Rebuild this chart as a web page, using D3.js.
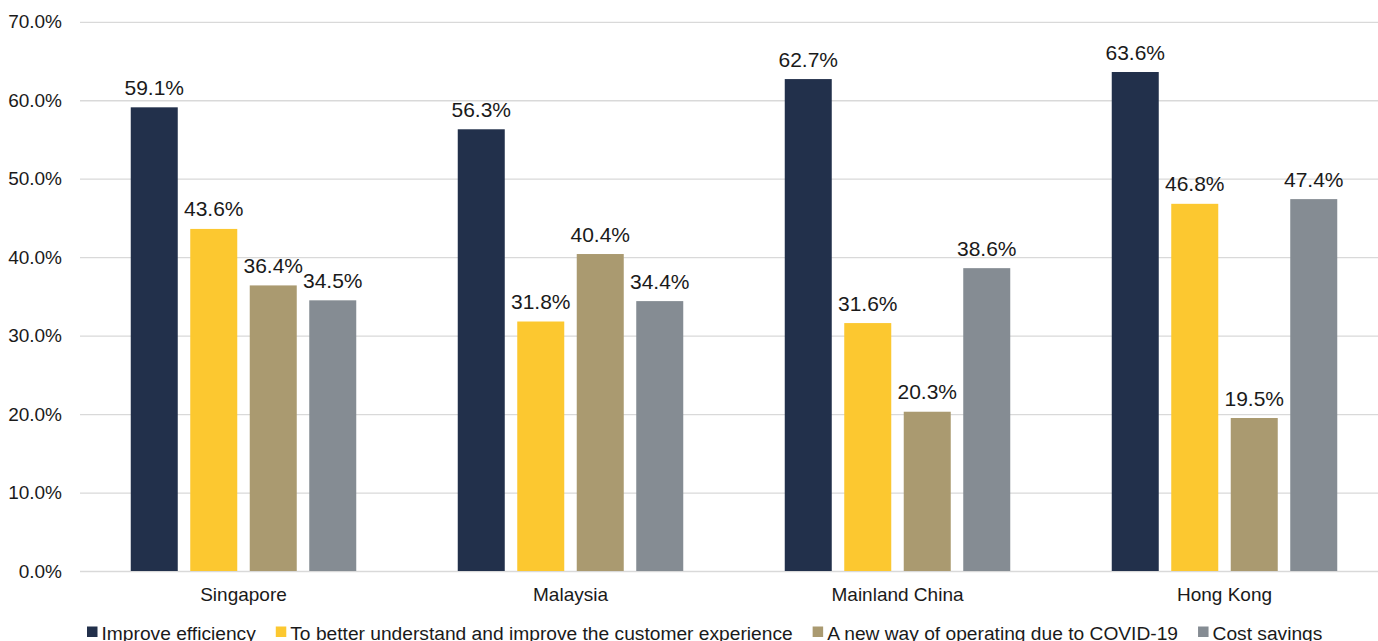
<!DOCTYPE html>
<html>
<head>
<meta charset="utf-8">
<script src="https://cdn.jsdelivr.net/npm/d3@7"></script>
<style>
  html, body { margin: 0; padding: 0; background: #fff; }
  svg { display: block; font-family: "Liberation Sans", Arial, sans-serif; }
</style>
</head>
<body>
<svg id="chart" width="1378" height="641"></svg>
<script>
// Markets surveyed
const categories = ["Singapore", "Malaysia", "Mainland China", "Hong Kong"];

// Share of respondents citing each reason (%)
const seriesNames = [
  "Improve efficiency",
  "To better understand and improve the customer experience",
  "A new way of operating due to COVID-19",
  "Cost savings"
];
const improveEfficiency = [59.1, 56.3, 62.7, 63.6];
const customerExperience = [43.6, 31.8, 31.6, 46.8];
const covidOperating = [36.4, 40.4, 20.3, 19.5];
const costSavings = [34.5, 34.4, 38.6, 47.4];
const seriesValues = [improveEfficiency, customerExperience, covidOperating, costSavings];
const seriesColors = ["#22304b", "#fcc830", "#aa9a70", "#858c93"];

// Y axis tick values (%)
const yTicks = [0, 10, 20, 30, 40, 50, 60, 70];

const svg = d3.select("#chart");
const W = 1378;
const plotLeft = 80, plotRight = 1388, plotTop = 21.8, plotBottom = 571;

const x0 = d3.scaleBand().domain(categories).range([plotLeft, plotRight]).padding(0);
const groupW = 225.5;
const groupOff = (x0.bandwidth() - groupW) / 2;
const x1 = d3.scaleBand().domain(seriesNames).range([groupOff, groupOff + groupW])
  .paddingInner(0.21).paddingOuter(0);
const y = d3.scaleLinear().domain([0, 70]).range([plotBottom, plotTop]);
const color = d3.scaleOrdinal().domain(seriesNames).range(seriesColors);
const pct = d3.format(".1f");

// Gridlines and y tick labels
const yAxis = svg.append("g")
  .attr("transform", `translate(${plotLeft},0)`)
  .call(d3.axisLeft(y).tickValues(yTicks).tickSize(-(W - plotLeft)).tickPadding(18)
    .tickFormat(d => pct(d) + "%"));
yAxis.select(".domain").remove();
yAxis.selectAll(".tick line").attr("stroke", "#d9d9d9").attr("stroke-width", 1.3);
yAxis.selectAll(".tick text").attr("fill", "#1a1a1a").style("font-size", "19px")
  .style("font-family", "Liberation Sans, Arial, sans-serif");

// Category axis labels
const xAxis = svg.append("g")
  .attr("transform", `translate(0,${plotBottom})`)
  .call(d3.axisBottom(x0).tickSize(0).tickPadding(17));
xAxis.select(".domain").remove();
xAxis.selectAll(".tick text").attr("fill", "#1a1a1a").style("font-size", "19px")
  .style("font-family", "Liberation Sans, Arial, sans-serif");

// Flattened rows for bars
const rows = [];
categories.forEach((c, i) => {
  seriesNames.forEach((s, j) => rows.push({ cat: c, series: s, value: seriesValues[j][i] }));
});

const bars = svg.append("g");
bars.selectAll("rect").data(rows).join("rect")
  .attr("x", d => x0(d.cat) + x1(d.series))
  .attr("y", d => y(d.value))
  .attr("width", x1.bandwidth())
  .attr("height", d => y(0) - y(d.value))
  .attr("fill", d => color(d.series));

// Value labels above bars
bars.selectAll("text").data(rows).join("text")
  .attr("x", d => x0(d.cat) + x1(d.series) + x1.bandwidth() / 2)
  .attr("y", d => y(d.value) - 12.5)
  .attr("text-anchor", "middle")
  .attr("fill", "#1a1a1a")
  .style("font-size", "21px")
  .text(d => pct(d.value) + "%");

// Legend along the bottom edge
const legend = svg.append("g").attr("transform", "translate(87,639.5)");
let lx = 0;
seriesNames.forEach((s) => {
  const item = legend.append("g").attr("transform", `translate(${lx},0)`);
  item.append("rect").attr("x", 0).attr("y", -13).attr("width", 10.5).attr("height", 10.5)
    .attr("fill", color(s));
  const t = item.append("text").attr("x", 14.5).attr("y", 0)
    .attr("fill", "#1a1a1a").style("font-size", "19.2px").text(s);
  lx += 14.5 + t.node().getComputedTextLength() + 20;
});
</script>
</body>
</html>
